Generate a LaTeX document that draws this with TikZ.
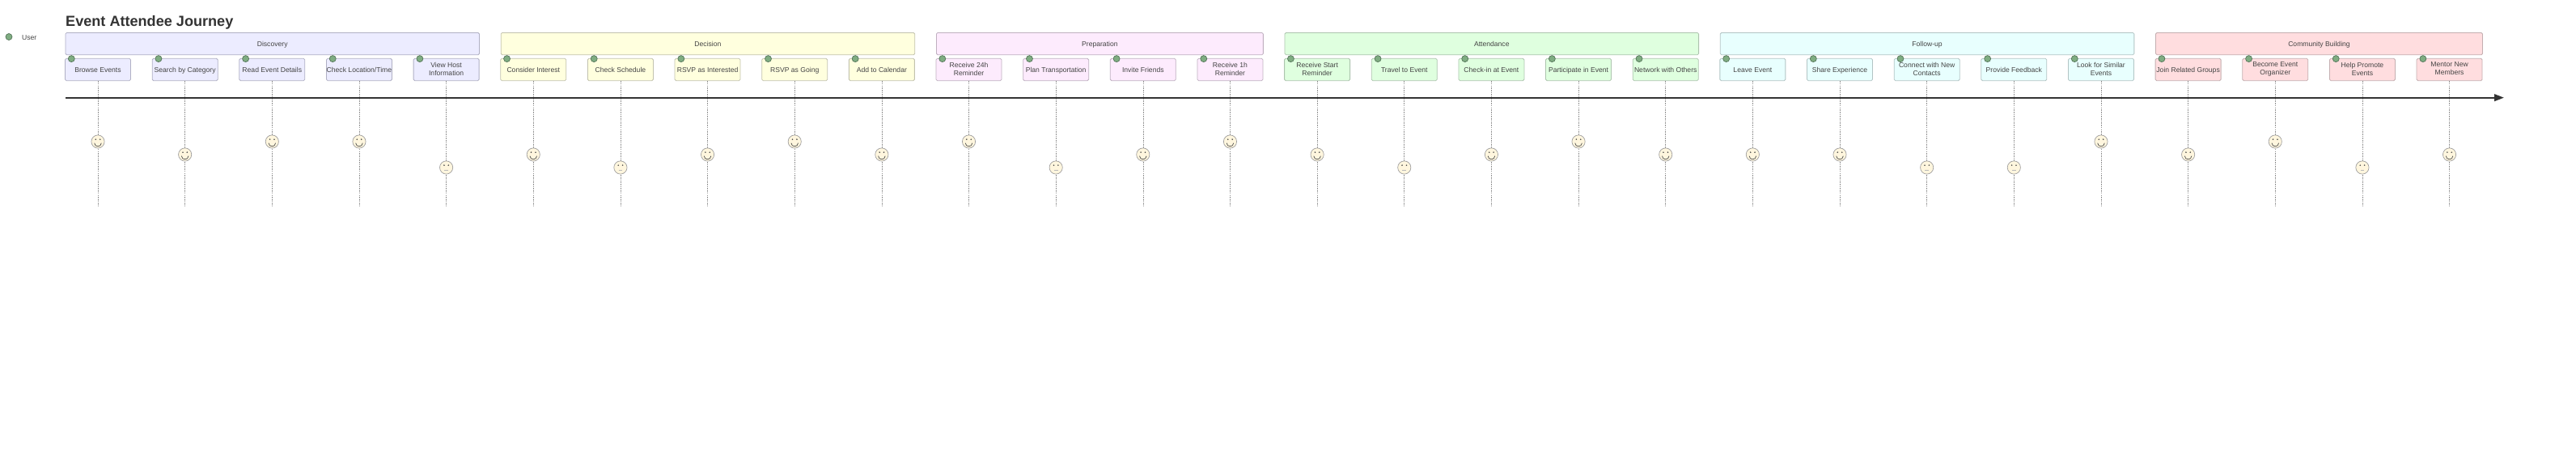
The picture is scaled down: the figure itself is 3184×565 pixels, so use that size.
\documentclass[tikz,border=0pt]{standalone}
\usepackage{fontspec}
\setmainfont{Liberation Sans}
\usetikzlibrary{arrows.meta}
\newcommand{\tstrut}{\rule[-2pt]{0pt}{10pt}}
\definecolor{fillA}{HTML}{ECECFF}\definecolor{lineA}{HTML}{B0B0C4}
\definecolor{fillB}{HTML}{FFFFDE}\definecolor{lineB}{HTML}{C2C2AE}
\definecolor{fillC}{HTML}{FDEBFD}\definecolor{lineC}{HTML}{BFB0C0}
\definecolor{fillD}{HTML}{DFFFDF}\definecolor{lineD}{HTML}{ACC4AE}
\definecolor{fillE}{HTML}{E8FFFE}\definecolor{lineE}{HTML}{B2C4C4}
\definecolor{fillF}{HTML}{FFDDDF}\definecolor{lineF}{HTML}{C4AEB0}
\definecolor{ink}{HTML}{444444}
\definecolor{dots}{HTML}{7FAD82}\definecolor{dotline}{HTML}{55755A}
\definecolor{facefill}{HTML}{FFF6DE}
\tikzset{
  band/.style={draw=line#1,fill=fill#1,line width=0.8pt,rounded corners=1.6pt,inner sep=0pt,minimum height=27.4pt,text=ink,font=\fontsize{8.6}{10}\selectfont,align=center,execute at begin node=\tstrut,execute at end node=\tstrut},
  taskbox/.style={band=#1,minimum width=81pt},
  stem/.style={draw=gray!85,line width=0.6pt,dash pattern=on 1.6pt off 1.1pt},
  axis/.style={draw=black!80,line width=2.2pt,-{Triangle[length=12pt,width=8.5pt]}},
  actordot/.style={circle,draw=dotline,fill=dots,line width=0.7pt,minimum size=8pt,inner sep=0pt},
  facebase/.style={circle,draw=gray!75,fill=facefill,line width=0.7pt,minimum size=16.2pt,inner sep=0pt},
  plain/.style={inner sep=0pt,text=ink,font=\fontsize{8.6}{10}\selectfont},
}
\begin{document}
\begin{tikzpicture}[x=1pt,y=-1pt]
\useasboundingbox (0,0) rectangle (3184,565);
\fill[white] (0,0) rectangle (3184,565);
\node[inner sep=0pt,anchor=base west,text=black!80,font=\bfseries\fontsize{18.1}{20}\selectfont] (title) at (81,32) {Event Attendee Journey};
\node[actordot] (actor) at (11,45.5) {};
\node[plain,anchor=base west] (actorlabel) at (27,49) {User};
% sections
\foreach \nm/\first/\last/\c/\t in {s1/0/4/A/Discovery,s2/5/9/B/Decision,s3/10/13/C/Preparation,s4/14/18/D/Attendance,s5/19/23/E/Follow-up,s6/24/27/F/Community Building}{
  \pgfmathsetmacro{\lft}{80.5+107.65*\first}
  \pgfmathsetmacro{\wid}{107.65*(\last-\first)+81}
  \node[band=\c,minimum width=\wid pt,anchor=north west] (\nm) at (\lft,40) {\t};
}
% axis
\coordinate (axisL) at (81,120.7);
\coordinate (axisR) at (3095,120.7);
\foreach \i/\lab/\lvl/\c in {
0/{Browse Events}/0/A,1/{Search by Category}/1/A,2/{Read Event Details}/0/A,3/{Check Location/Time}/0/A,4/{View Host\\Information}/2/A,
5/{Consider Interest}/1/B,6/{Check Schedule}/2/B,7/{RSVP as Interested}/1/B,8/{RSVP as Going}/0/B,9/{Add to Calendar}/1/B,
10/{Receive 24h\\Reminder}/0/C,11/{Plan Transportation}/2/C,12/{Invite Friends}/1/C,13/{Receive 1h\\Reminder}/0/C,
14/{Receive Start\\Reminder}/1/D,15/{Travel to Event}/2/D,16/{Check-in at Event}/1/D,17/{Participate in Event}/0/D,18/{Network with Others}/1/D,
19/{Leave Event}/1/E,20/{Share Experience}/1/E,21/{Connect with New\\Contacts}/2/E,22/{Provide Feedback}/2/E,23/{Look for Similar\\Events}/0/E,
24/{Join Related Groups}/1/F,25/{Become Event\\Organizer}/0/F,26/{Help Promote\\Events}/2/F,27/{Mentor New\\Members}/1/F}{
  \pgfmathsetmacro{\cx}{121+107.65*\i}
  \pgfmathsetmacro{\fy}{175+16*\lvl}
  \node[taskbox=\c] (t\i) at (\cx,86) {\lab};
  \node[actordot] (d\i) at (\cx-32.7,72.6) {};
  \coordinate (end\i) at (\cx,255);
  \draw[stem] (t\i.south) -- (end\i);
  \node[facebase] (f\i) at (\cx,\fy) {};
  \fill[black!70] (\cx-2.7,\fy-2.8) circle (0.9);
  \fill[black!70] (\cx+2.7,\fy-2.8) circle (0.9);
  \ifnum\lvl=2
    \draw[gray!55,line width=0.9pt] (\cx-2.4,\fy+3.7) -- (\cx+2.4,\fy+3.7);
  \else
    \draw[black!70,line width=0.7pt] (\cx-4.3,\fy+1.7) .. controls (\cx-4.1,\fy+7.3) and (\cx+4.1,\fy+7.3) .. (\cx+4.3,\fy+1.7);
  \fi
}
\draw[axis] (axisL) -- (axisR);
\end{tikzpicture}
\end{document}
